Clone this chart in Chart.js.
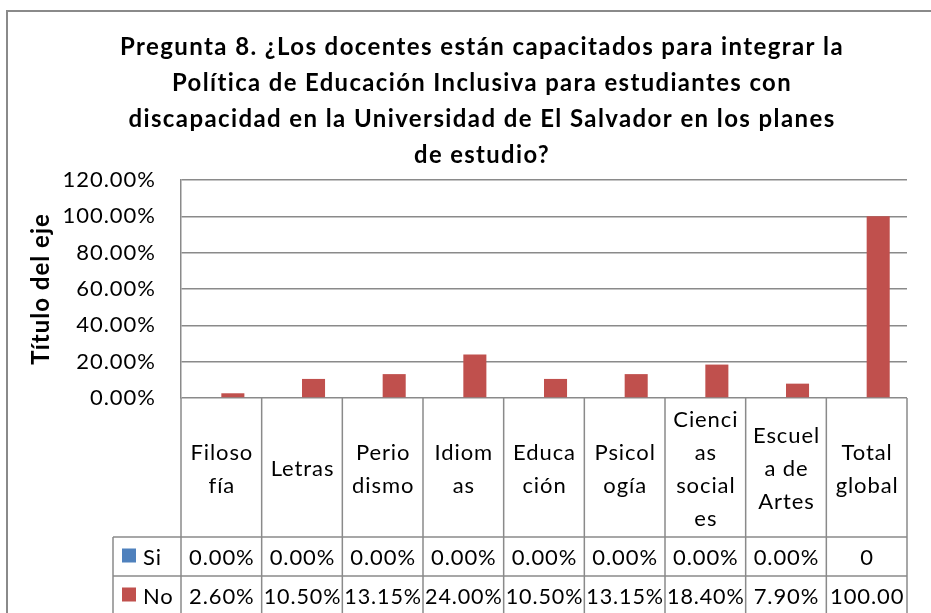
<!DOCTYPE html>
<html>
<head>
<meta charset="utf-8">
<script src="https://cdn.jsdelivr.net/npm/chart.js@4"></script>
<style>
  body { margin: 0; background: #fff; }
</style>
</head>
<body>
<canvas id="chart" width="931" height="613"></canvas>
<script>
const titleLines = [
    'Pregunta 8. ¿Los docentes están capacitados para integrar la',
    'Política de Educación Inclusiva para estudiantes con',
    'discapacidad en la Universidad de El Salvador en los planes',
    'de estudio?'
];
const categories = [
    ['Filoso', 'fía'], ['Letras'], ['Perio', 'dismo'], ['Idiom', 'as'],
    ['Educa', 'ción'], ['Psicol', 'ogía'], ['Cienci', 'as', 'social', 'es'],
    ['Escuel', 'a de', 'Artes'], ['Total', 'global']
];
const seriesNames = ['Si', 'No'];
const siValues = [0, 0, 0, 0, 0, 0, 0, 0, 0];
const noValues = [2.6, 10.5, 13.15, 24, 10.5, 13.15, 18.4, 7.9, 100];
const siCells = ['0.00%', '0.00%', '0.00%', '0.00%', '0.00%', '0.00%', '0.00%', '0.00%', '0'];
const noCells = ['2.60%', '10.50%', '13.15%', '24.00%', '10.50%', '13.15%', '18.40%', '7.90%', '100.00'];
const seriesColors = ['#4F81BD', '#C0504D'];

const FONT = 'Lato, "Liberation Sans", sans-serif';
const LINE = '#8a8a8a';

// title + outer frame, and the wide excel letter spacing
const framePlugin = {
    id: 'frame',
    beforeDraw(chart) {
        chart.ctx.letterSpacing = '1px';
    },
    afterDraw(chart) {
        const ctx = chart.ctx;
        ctx.save();
        ctx.strokeStyle = LINE;
        ctx.lineWidth = 2;
        ctx.beginPath();
        ctx.moveTo(7, chart.height);
        ctx.lineTo(7, 11);
        ctx.lineTo(chart.width, 11);
        ctx.stroke();

        ctx.fillStyle = '#000';
        ctx.font = 'bold 24px ' + FONT;
        ctx.letterSpacing = '1.4px';
        ctx.textAlign = 'center';
        ctx.textBaseline = 'middle';
        const maxW = [727, 620, 724, 136];
        titleLines.forEach((t, i) => {
            ctx.fillText(t, 482, 47 + i * 36, maxW[i]);
        });
        ctx.restore();
    }
};

// excel style data table under the plot
const tablePlugin = {
    id: 'dataTable',
    afterDraw(chart) {
        const ctx = chart.ctx;
        const area = chart.chartArea;
        const n = categories.length;
        const w = (area.right - area.left) / n;
        const top = area.bottom;
        const headerH = 139;
        const rowH = 39;
        const legendLeft = 113;
        const bottom = chart.height;

        ctx.save();
        ctx.strokeStyle = LINE;
        ctx.lineWidth = 1.5;
        ctx.beginPath();
        for (let i = 0; i <= n; i++) {
            const x = area.left + i * w;
            ctx.moveTo(x, top);
            ctx.lineTo(x, bottom);
        }
        ctx.moveTo(legendLeft, top + headerH);
        ctx.lineTo(area.right, top + headerH);
        ctx.moveTo(legendLeft, top + headerH + rowH);
        ctx.lineTo(area.right, top + headerH + rowH);
        ctx.moveTo(legendLeft, top + headerH);
        ctx.lineTo(legendLeft, bottom);
        ctx.stroke();

        ctx.fillStyle = '#000';
        ctx.font = '22px ' + FONT;
        ctx.letterSpacing = '0.9px';
        ctx.textAlign = 'center';
        ctx.textBaseline = 'middle';
        const xScale = chart.scales.x;
        categories.forEach((lines, i) => {
            const cx = xScale.getPixelForValue(i) + 0.5;
            const cy = top + 71;
            lines.forEach((s, j) => {
                ctx.fillText(s, cx, cy + (j - (lines.length - 1) / 2) * 33, w - 4);
            });
            ctx.fillText(siCells[i], cx, top + headerH + rowH / 2 + 1, w - 3);
            ctx.fillText(noCells[i], cx, top + headerH + rowH * 1.5 + 1, w - 3);
        });

        ctx.textAlign = 'left';
        seriesNames.forEach((name, k) => {
            const cy = top + headerH + rowH * (k + 0.5);
            ctx.fillStyle = seriesColors[k];
            ctx.fillRect(122, cy - 8, 14, 14);
            ctx.fillStyle = '#000';
            ctx.fillText(name, 143, cy + 1);
        });
        ctx.restore();
    }
};

new Chart(document.getElementById('chart'), {
    type: 'bar',
    data: {
        labels: categories,
        datasets: [{
            label: seriesNames[0],
            data: siValues,
            backgroundColor: seriesColors[0]
        }, {
            label: seriesNames[1],
            data: noValues,
            backgroundColor: seriesColors[1]
        }]
    },
    options: {
        responsive: false,
        animation: false,
        layout: { padding: { top: 180, right: 24, bottom: 215, left: 0 } },
        datasets: { bar: { categoryPercentage: 2 / 3.5, barPercentage: 1 } },
        plugins: {
            legend: { display: false },
            tooltip: { enabled: false },
            title: { display: false }
        },
        scales: {
            x: { display: false },
            y: {
                min: 0,
                max: 120,
                afterFit: s => { s.width = 181; },
                ticks: {
                    stepSize: 20,
                    padding: 25,
                    color: '#000',
                    font: { family: FONT, size: 22 },
                    callback: v => v.toFixed(2) + '%'
                },
                grid: { color: LINE, lineWidth: 1.5, drawTicks: false },
                border: { display: true, color: LINE, width: 1.5 },
                title: {
                    display: true,
                    text: 'Título del eje',
                    color: '#000',
                    font: { family: FONT, size: 24, weight: 'bold' },
                    padding: { top: 27, bottom: 0 }
                }
            }
        }
    },
    plugins: [framePlugin, tablePlugin]
});
</script>
</body>
</html>
